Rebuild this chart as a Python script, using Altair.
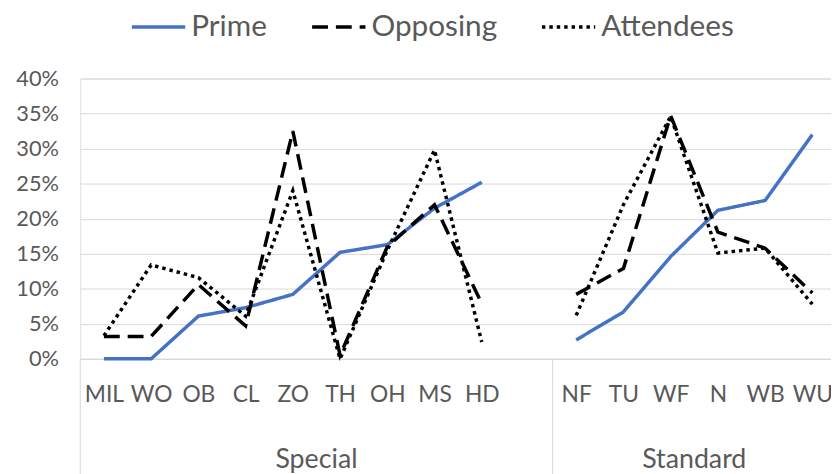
import altair as alt
import pandas as pd

# ---- data ----
cats_special = ["MIL", "WO", "OB", "CL", "ZO", "TH", "OH", "MS", "HD"]
cats_standard = ["NF", "TU", "WF", "N", "WB", "WU"]
groups = ["Special", "Standard"]
series = ["Prime", "Opposing", "Attendees"]

prime_special = [0, 0, 6.1, 7.3, 9.2, 15.2, 16.3, 21.5, 25.2]
opposing_special = [3.2, 3.2, 10.6, 4.7, 32.5, 0.5, 16.0, 22.0, 7.9]
attendees_special = [3.3, 13.4, 11.6, 6.1, 24.0, 0, 15.5, 29.8, 2.4]

prime_standard = [2.7, 6.7, 14.6, 21.2, 22.6, 32.0]
opposing_standard = [9.2, 12.9, 34.7, 18.1, 15.8, 9.4]
attendees_standard = [6.2, 22.0, 34.6, 15.1, 15.8, 7.8]

y_ticks = [0, 5, 10, 15, 20, 25, 30, 35, 40]

# ---- build tables ----
special_idx = list(range(len(cats_special)))            # 0..8
standard_start = len(cats_special) + 1                  # blank slot after HD
standard_idx = [standard_start + i for i in range(len(cats_standard))]
n_slots = standard_idx[-1] + 1

rows = []
for s, vals in zip(series, [prime_special, opposing_special, attendees_special]):
    for i, c, v in zip(special_idx, cats_special, vals):
        rows.append({"idx": i, "cat": c, "group": "Special", "series": s, "value": v})
for s, vals in zip(series, [prime_standard, opposing_standard, attendees_standard]):
    for i, c, v in zip(standard_idx, cats_standard, vals):
        rows.append({"idx": i, "cat": c, "group": "Standard", "series": s, "value": v})
df = pd.DataFrame(rows)

# group label centres & separators (in slot units)
bounds = [-0.5, standard_start - 0.5, n_slots - 0.5]
grp_df = pd.DataFrame({
    "group": groups,
    "center": [(bounds[0] + bounds[1]) / 2, (bounds[1] + bounds[2]) / 2],
})
sep_df = pd.DataFrame({"b": bounds})

label_map = {i: c for i, c in zip(special_idx, cats_special)}
label_map.update({i: c for i, c in zip(standard_idx, cats_standard)})
label_expr = "{" + ",".join(f"'{k}':'{v}'" for k, v in label_map.items()) + "}[datum.value]"

GREY = "#595959"
GRID = "#d9d9d9"
FONT = "Lato"

PLOT_W = 758
PLOT_H = 283
RANGE_W = 763

xscale = alt.Scale(domain=[-0.5, n_slots - 0.5], range=[0, RANGE_W], nice=False, zero=False)
yscale = alt.Scale(domain=[0, 40], nice=False)

legend_cfg = dict(title=None, orient="none", legendX=50, legendY=-81,
                  direction="horizontal", symbolType="stroke",
                  symbolSize=2900, symbolStrokeWidth=3.5,
                  labelFont=FONT, labelFontSize=30, labelColor=GREY, labelLimit=400,
                  labelOffset=4, columnPadding=38)

lines = alt.Chart(df).mark_line(strokeWidth=3.5, strokeCap="butt", strokeJoin="miter").encode(
    x=alt.X("idx:Q", scale=xscale,
            axis=alt.Axis(values=list(label_map.keys()), labelExpr=label_expr, title=None,
                          grid=False, ticks=False, domain=True, domainColor=GRID, domainWidth=1,
                          labelFont=FONT, labelFontSize=23, labelColor=GREY, labelPadding=25,
                          labelFlush=False, labelOverlap=False)),
    y=alt.Y("value:Q", scale=yscale,
            axis=alt.Axis(values=y_ticks, labelExpr="datum.value + '%'", title=None,
                          grid=True, gridColor=GRID, gridWidth=1, ticks=False, domain=False,
                          labelFont=FONT, labelFontSize=22, labelColor=GREY, labelPadding=22)),
    color=alt.Color("series:N", scale=alt.Scale(domain=series, range=["#4472C4", "#000000", "#000000"]),
                    legend=alt.Legend(**legend_cfg)),
    strokeDash=alt.StrokeDash("series:N", scale=alt.Scale(domain=series, range=[[1, 0], [16, 8], [3.5, 4]]),
                              legend=alt.Legend(**legend_cfg)),
    detail="group:N",
    order="idx:Q",
)

seps = alt.Chart(sep_df).mark_rule(color=GRID, strokeWidth=1).encode(
    x=alt.X("b:Q", scale=xscale),
    y=alt.value(PLOT_H),
    y2=alt.value(PLOT_H + 120),
)

glabels = alt.Chart(grp_df).mark_text(font=FONT, fontSize=27, color=GREY, baseline="middle").encode(
    x=alt.X("center:Q", scale=xscale),
    y=alt.value(PLOT_H + 102),
    text="group:N",
)

chart = alt.layer(lines, seps, glabels).properties(
    width=PLOT_W, height=PLOT_H,
    autosize=alt.AutoSizeParams(type="none"),
    padding={"left": 73, "top": 69, "right": 0, "bottom": 114},
).configure_view(stroke=None).configure(background="white")

chart.save("out.html", embed_options={"renderer": "svg", "actions": False})
